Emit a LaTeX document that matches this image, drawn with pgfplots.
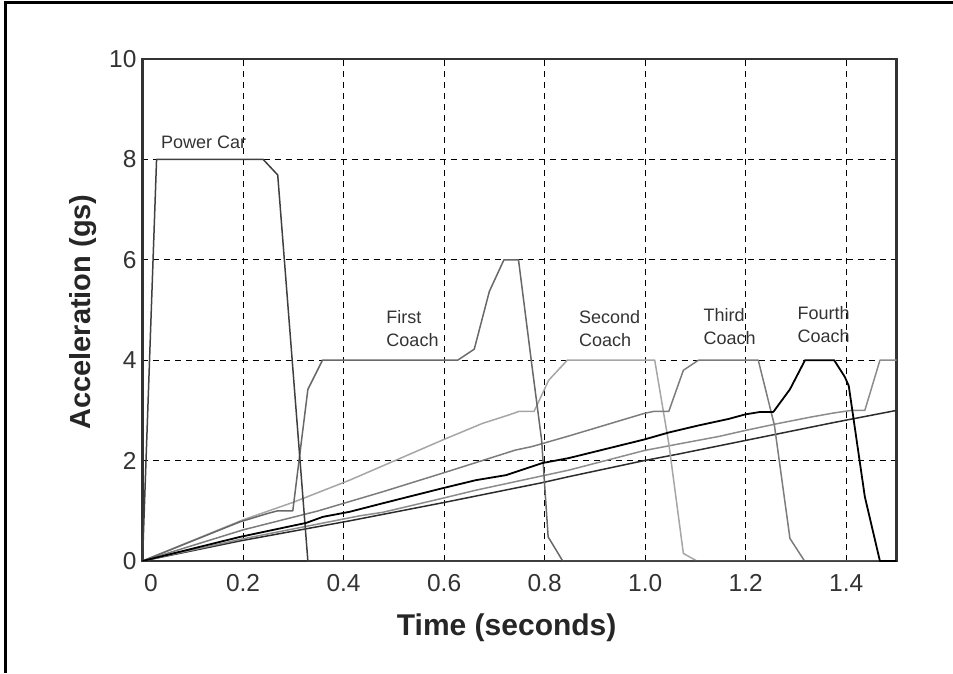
\documentclass[border=0pt]{standalone}
\usepackage{fontspec}
\setmainfont{Liberation Sans}
\usepackage{pgfplots}
\pgfplotsset{compat=1.18}
\definecolor{axgray}{HTML}{333333}
\definecolor{cpower}{HTML}{404040}
\definecolor{cfirst}{HTML}{686868}
\definecolor{csecond}{HTML}{A6A6A6}
\definecolor{cthird}{HTML}{7C7C7C}
\definecolor{cfifth}{HTML}{8C8C8C}
\definecolor{csixth}{HTML}{2C2C2C}
\begin{document}
\begin{tikzpicture}
\useasboundingbox (-142.5pt,-112pt) rectangle (810.5pt,561pt);
\draw[line width=3pt, black] (-136.5pt,-112pt) -- (-136.5pt,558pt) -- (810.5pt,558pt);
\begin{axis}[
  at={(0,0)}, anchor=south west,
  width=754pt, height=502pt, scale only axis,
  xmin=0, xmax=1.5, ymin=0, ymax=10,
  xtick={0,0.2,0.4,0.6,0.8,1.0,1.2,1.4},
  xticklabels={\hspace*{17pt}0,0.2,0.4,0.6,0.8,1.0,1.2,1.4},
  ytick={0,2,4,6,8,10},
  grid=major,
  major grid style={dash pattern=on 6pt off 5pt, black, line width=0.9pt},
  axis line style={axgray, line width=2.5pt},
  tick style={black, line width=0.9pt},
  tick align=inside,
  major tick length=6pt,
  /pgf/number format/assume math mode=true,
  ticklabel style={font=\fontsize{24.5}{28}\selectfont, text=axgray},
  xticklabel style={yshift=-10pt},
  yticklabel style={xshift=-2.5pt},
  xlabel={Time (seconds)},
  ylabel={Acceleration (gs)},
  xlabel style={at={(axis description cs:0.483,-0.1474)}, anchor=base, font=\bfseries\fontsize{30}{34}\selectfont, text=black!85},
  ylabel style={at={(axis description cs:-0.0696,0.496)}, anchor=base, font=\bfseries\fontsize{29}{34}\selectfont, text=black!85},
  every axis plot/.append style={line width=1.5pt, line join=round},
]
% sixth ramp (lowest)
\addplot[csixth] coordinates {(0,0) (0.194,0.40) (0.412,0.80) (0.597,1.16) (0.795,1.56) (0.848,1.68) (0.998,2.0) (1.066,2.13) (1.376,2.76) (1.5,3.0)};
% fifth ramp
\addplot[cfifth] coordinates {(0,0) (0.194,0.43) (0.432,0.9) (0.478,0.97) (0.597,1.25) (0.663,1.41) (0.848,1.81) (0.998,2.20) (1.066,2.33) (1.146,2.48) (1.199,2.6) (1.265,2.74) (1.331,2.87) (1.376,2.95) (1.41,3.0) (1.437,3.0) (1.467,4.0) (1.5,4.0)};
% Second Coach
\addplot[csecond] coordinates {(0,0) (0.2,0.82) (0.3,1.17) (0.412,1.61) (0.597,2.41) (0.676,2.74) (0.729,2.91) (0.749,2.98) (0.779,2.98) (0.808,3.6) (0.845,4.0) (1.019,4.0) (1.047,2.34) (1.076,0.15) (1.103,0) (1.5,0)};
% Third Coach
\addplot[cthird] coordinates {(0,0) (0.2,0.62) (0.35,1.0) (0.478,1.38) (0.597,1.75) (0.742,2.21) (0.775,2.28) (0.848,2.49) (0.998,2.94) (1.017,2.98) (1.047,2.98) (1.076,3.8) (1.106,4.0) (1.225,4.0) (1.257,2.71) (1.288,0.45) (1.317,0) (1.5,0)};
% First Coach
\addplot[cfirst] coordinates {(0,0) (0.194,0.78) (0.25,0.95) (0.269,1.0) (0.299,1.0) (0.329,3.42) (0.358,4.0) (0.627,4.0) (0.66,4.22) (0.69,5.37) (0.719,6.0) (0.748,6.0) (0.775,3.87) (0.794,2.41) (0.807,0.48) (0.836,0) (1.5,0)};
% Power Car
\addplot[cpower] coordinates {(0,0) (0.028,8.0) (0.24,8.0) (0.269,7.69) (0.329,0) (1.5,0)};
% Fourth Coach
\addplot[black, line width=1.8pt] coordinates {(0,0) (0.194,0.48) (0.326,0.76) (0.359,0.88) (0.412,0.98) (0.478,1.15) (0.597,1.45) (0.663,1.61) (0.723,1.71) (0.795,1.95) (0.848,2.05) (0.998,2.42) (1.047,2.56) (1.106,2.70) (1.166,2.83) (1.199,2.92) (1.229,2.97) (1.255,2.97) (1.288,3.42) (1.318,4.0) (1.376,4.0) (1.397,3.67) (1.405,3.49) (1.437,1.28) (1.467,0) (1.5,0)};
\begin{scope}[every node/.style={anchor=west, align=left, inner sep=0pt, font=\fontsize{18}{23}\selectfont, text=axgray}]
\node at (axis cs:0.0367,8.35) {Power Car};
\node at (axis cs:0.485,4.64) {First\\Coach};
\node at (axis cs:0.868,4.63) {Second\\Coach};
\node at (axis cs:1.116,4.68) {Third\\Coach};
\node at (axis cs:1.303,4.71) {Fourth\\Coach};
\end{scope}
\end{axis}
\end{tikzpicture}
\end{document}
